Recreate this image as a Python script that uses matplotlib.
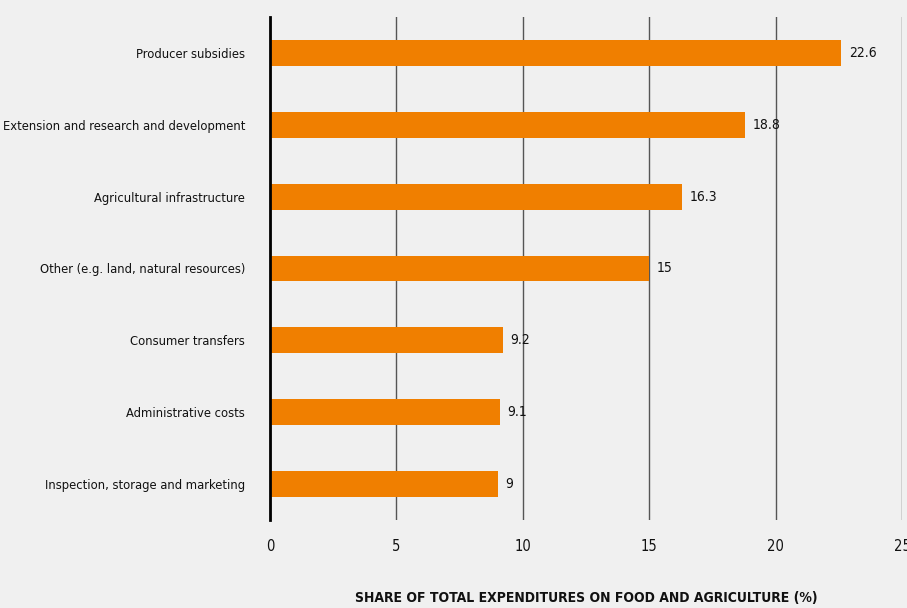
import matplotlib
matplotlib.use("Agg")
import matplotlib.pyplot as plt

categories = [
    "Producer subsidies",
    "Extension and research and development",
    "Agricultural infrastructure",
    "Other (e.g. land, natural resources)",
    "Consumer transfers",
    "Administrative costs",
    "Inspection, storage and marketing",
]
values = [22.6, 18.8, 16.3, 15, 9.2, 9.1, 9]
value_labels = ["22.6", "18.8", "16.3", "15", "9.2", "9.1", "9"]
xticks = [0, 5, 10, 15, 20, 25]

BG = "#f0f0f0"
ORANGE = "#f07f00"

plt.rcParams["font.family"] = ["DejaVu Sans"]
plt.rcParams["font.stretch"] = "condensed"

fig = plt.figure(figsize=(9.07, 6.08), dpi=100, facecolor=BG)
ax = fig.add_axes([270 / 907, 88 / 608, 632 / 907, 503 / 608], facecolor=BG)

ypos = list(range(len(categories)))
ax.barh(ypos, values, height=0.36, color=ORANGE, zorder=3)
for y, v, lab in zip(ypos, values, value_labels):
    ax.text(v + 0.3, y, lab, va="center", ha="left", fontsize=10, color="#111111")

ax.set_ylim(len(categories) - 0.5, -0.5)
ax.set_xlim(0, 25)
ax.set_yticks(ypos)
ax.set_yticklabels(categories, fontsize=9.3, color="#111111")
ax.set_xticks(xticks)
ax.set_xticklabels([str(t) for t in xticks], fontsize=10.5, color="#111111")
ax.tick_params(axis="both", length=0)
ax.tick_params(axis="y", pad=18)
ax.tick_params(axis="x", pad=14)

ax.grid(axis="x", color="#555555", lw=1.0, zorder=0)
ax.set_axisbelow(True)
for s in ["top", "right", "bottom"]:
    ax.spines[s].set_visible(False)
ax.spines["left"].set_linewidth(2)
ax.spines["left"].set_color("black")
ax.spines["left"].set_zorder(4)

fig.text(586.5 / 907, 10 / 608, "SHARE OF TOTAL EXPENDITURES ON FOOD AND AGRICULTURE (%)",
         ha="center", va="center", fontsize=10, fontweight="bold", color="#111111")

fig.savefig("out.png", dpi=100, facecolor=BG)
